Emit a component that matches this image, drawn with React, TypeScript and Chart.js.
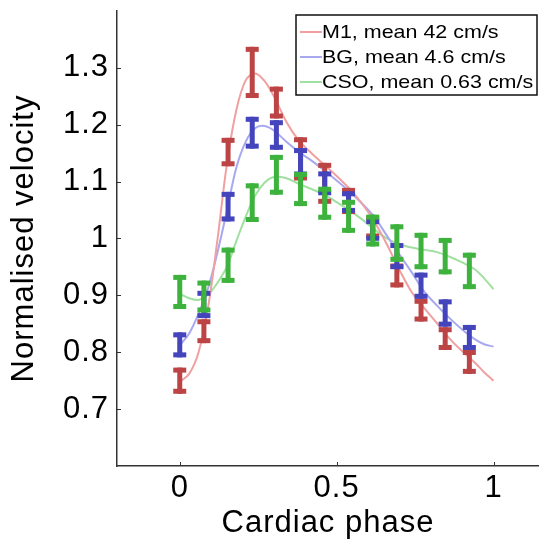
import React, { useEffect, useRef } from 'react';
import { Chart, registerables } from 'chart.js';

Chart.register(...registerables);

// Measured points (cardiac phase bins)
const phase = [0, 0.077, 0.154, 0.231, 0.308, 0.385, 0.462, 0.538, 0.615, 0.692, 0.769, 0.846, 0.923];

const m1Mean = [0.750, 0.837, 1.152, 1.292, 1.239, 1.140, 1.097, 1.066, 1.020, 0.935, 0.874, 0.824, 0.783];
const m1Err = [0.023, 0.021, 0.025, 0.045, 0.028, 0.038, 0.036, 0.023, 0.020, 0.021, 0.020, 0.020, 0.021];

const bgMean = [0.813, 0.884, 1.056, 1.186, 1.182, 1.134, 1.097, 1.064, 1.015, 0.969, 0.917, 0.869, 0.826];
const bgErr = [0.022, 0.024, 0.026, 0.028, 0.026, 0.025, 0.021, 0.019, 0.019, 0.023, 0.023, 0.024, 0.022];

const csoMean = [0.906, 0.898, 0.953, 1.063, 1.112, 1.087, 1.062, 1.039, 1.014, 0.992, 0.978, 0.969, 0.943];
const csoErr = [0.030, 0.028, 0.031, 0.034, 0.035, 0.030, 0.029, 0.029, 0.028, 0.033, 0.032, 0.032, 0.032];

// Fitted curves
const fitPhase = [0, 0.03, 0.06, 0.09, 0.12, 0.15, 0.18, 0.21, 0.24, 0.27, 0.30, 0.34, 0.38, 0.42, 0.46, 0.50, 0.54, 0.58, 0.62, 0.66, 0.70, 0.74, 0.78, 0.82, 0.86, 0.90, 0.94, 0.97, 1.0];
const m1Fit = [0.748, 0.762, 0.800, 0.878, 0.997, 1.130, 1.225, 1.278, 1.290, 1.277, 1.250, 1.205, 1.172, 1.150, 1.130, 1.110, 1.088, 1.062, 1.030, 0.990, 0.945, 0.905, 0.877, 0.851, 0.824, 0.802, 0.782, 0.765, 0.750];
const bgFit = [0.812, 0.833, 0.868, 0.912, 0.975, 1.048, 1.124, 1.170, 1.194, 1.198, 1.190, 1.170, 1.152, 1.137, 1.120, 1.102, 1.083, 1.062, 1.038, 1.005, 0.972, 0.940, 0.906, 0.882, 0.860, 0.840, 0.823, 0.814, 0.810];
const csoFit = [0.903, 0.895, 0.892, 0.901, 0.922, 0.950, 0.995, 1.038, 1.075, 1.098, 1.108, 1.106, 1.096, 1.087, 1.077, 1.064, 1.050, 1.034, 1.016, 1.000, 0.990, 0.984, 0.980, 0.976, 0.968, 0.958, 0.946, 0.930, 0.911];

const seriesLabels = ['M1, mean 42 cm/s', 'BG, mean 4.6 cm/s', 'CSO, mean 0.63 cm/s'];
const xTickValues = [0, 0.5, 1];
const yTickValues = [0.7, 0.8, 0.9, 1, 1.1, 1.2, 1.3];
const xTitle = 'Cardiac phase';
const yTitle = 'Normalised velocity';

const fitColors = ['#f0a0a0', '#a8a8f0', '#a0e0a0'];
const barColors = ['#bc4444', '#4444bc', '#3db23d'];
const FONT = '"Liberation Sans", Arial, Helvetica, sans-serif';

const errorSeries = [
  { mean: m1Mean, err: m1Err },
  { mean: bgMean, err: bgErr },
  { mean: csoMean, err: csoErr },
];

const textSpacingPlugin = {
  id: 'textSpacing',
  beforeDraw(chart: any) {
    chart.ctx.letterSpacing = '1px';
  },
};

const errorBarPlugin = {
  id: 'errorBars',
  afterDatasetsDraw(chart: any) {
    const ctx = chart.ctx;
    const xs = chart.scales.x;
    const ys = chart.scales.y;
    ctx.save();
    errorSeries.forEach((s, si) => {
      ctx.fillStyle = barColors[si];
      phase.forEach((p, i) => {
        const px = xs.getPixelForValue(p);
        const top = ys.getPixelForValue(s.mean[i] + s.err[i]);
        const bot = ys.getPixelForValue(s.mean[i] - s.err[i]);
        ctx.fillRect(px - 2.5, top, 5, bot - top);
        ctx.fillRect(px - 6.5, top, 13, 5);
        ctx.fillRect(px - 6.5, bot - 5, 13, 5);
      });
    });
    ctx.restore();
  },
};

const tickMarkPlugin = {
  id: 'tickMarks',
  afterDraw(chart: any) {
    const ctx = chart.ctx;
    const { left, bottom } = chart.chartArea;
    const xs = chart.scales.x;
    const ys = chart.scales.y;
    ctx.save();
    ctx.strokeStyle = '#333';
    ctx.lineWidth = 1;
    ctx.beginPath();
    yTickValues.forEach((v) => {
      const py = Math.round(ys.getPixelForValue(v)) + 0.5;
      ctx.moveTo(left, py);
      ctx.lineTo(left + 4, py);
    });
    xTickValues.forEach((v) => {
      const px = Math.round(xs.getPixelForValue(v)) + 0.5;
      ctx.moveTo(px, bottom);
      ctx.lineTo(px, bottom - 4);
    });
    ctx.stroke();
    ctx.restore();
  },
};

const boxLegendPlugin = {
  id: 'boxLegend',
  afterDraw(chart: any) {
    const ctx = chart.ctx;
    const { right, top } = chart.chartArea;
    const w = 241;
    const h = 80;
    const bx = right - 2 - w;
    const by = top + 4;
    ctx.save();
    ctx.letterSpacing = '0px';
    ctx.fillStyle = '#ffffff';
    ctx.fillRect(bx, by, w, h);
    ctx.strokeStyle = '#111';
    ctx.lineWidth = 1.5;
    ctx.strokeRect(bx, by, w, h);
    seriesLabels.forEach((label, i) => {
      const cy = by + 17 + i * 25;
      ctx.strokeStyle = fitColors[i];
      ctx.lineWidth = 2;
      ctx.beginPath();
      ctx.moveTo(bx + 4, cy);
      ctx.lineTo(bx + 26, cy);
      ctx.stroke();
      ctx.save();
      ctx.translate(bx + 26, cy);
      ctx.scale(1.13, 1);
      ctx.fillStyle = '#000';
      ctx.font = `19px ${FONT}`;
      ctx.textBaseline = 'middle';
      ctx.textAlign = 'left';
      ctx.fillText(label, 0, 1);
      ctx.restore();
    });
    ctx.restore();
  },
};

export default function App() {
  const canvasRef = useRef<HTMLCanvasElement | null>(null);

  useEffect(() => {
    document.body.style.margin = '0';
    const canvas = canvasRef.current;
    if (!canvas) return;
    const fits = [m1Fit, bgFit, csoFit];
    const chart = new Chart(canvas, {
      type: 'scatter',
      data: {
        datasets: fits.map((f, i) => ({
          label: seriesLabels[i],
          data: fitPhase.map((x, j) => ({ x, y: f[j] })),
          showLine: true,
          borderColor: fitColors[i],
          backgroundColor: fitColors[i],
          borderWidth: 2,
          pointRadius: 0,
          tension: 0.35,
        })),
      },
      options: {
        responsive: false,
        animation: false,
        devicePixelRatio: 1,
        layout: { padding: { top: 11, right: 0, left: 0, bottom: 0 } },
        plugins: {
          legend: { display: false },
          tooltip: { enabled: false },
        },
        scales: {
          x: {
            type: 'linear',
            min: -0.2,
            max: 1.145,
            afterBuildTicks: (scale: any) => {
              scale.ticks = xTickValues.map((v) => ({ value: v }));
            },
            afterFit: (scale: any) => {
              scale.height = 76;
              scale.paddingLeft = 0;
              scale.paddingRight = 0;
            },
            ticks: {
              callback: (v: any) => String(v),
              font: { family: FONT, size: 31 },
              color: '#000',
              padding: 4,
              maxRotation: 0,
            },
            grid: { drawOnChartArea: false, drawTicks: false },
            border: { display: true, color: '#333', width: 1.5 },
            title: {
              display: true,
              text: xTitle,
              font: { family: FONT, size: 31 },
              color: '#000',
              padding: { top: 0, bottom: 0 },
            },
          },
          y: {
            type: 'linear',
            min: 0.6,
            max: 1.4,
            afterBuildTicks: (scale: any) => {
              scale.ticks = yTickValues.map((v) => ({ value: v }));
            },
            afterFit: (scale: any) => {
              scale.width = 117;
              scale.paddingTop = 0;
              scale.paddingBottom = 0;
            },
            ticks: {
              callback: (v: any) => String(Math.round(v * 10) / 10),
              font: { family: FONT, size: 31 },
              color: '#000',
              padding: 8,
            },
            grid: { drawOnChartArea: false, drawTicks: false },
            border: { display: true, color: '#333', width: 1.5 },
            title: {
              display: true,
              text: yTitle,
              font: { family: FONT, size: 31 },
              color: '#000',
              padding: { top: 6, bottom: 0 },
            },
          },
        },
      },
      plugins: [textSpacingPlugin, errorBarPlugin, tickMarkPlugin, boxLegendPlugin],
    } as any);
    return () => chart.destroy();
  }, []);

  return (
    <div style={{ position: 'absolute', left: 0, top: 0, width: 539, height: 542, background: '#fff' }}>
      <canvas ref={canvasRef} width={539} height={542} />
    </div>
  );
}
